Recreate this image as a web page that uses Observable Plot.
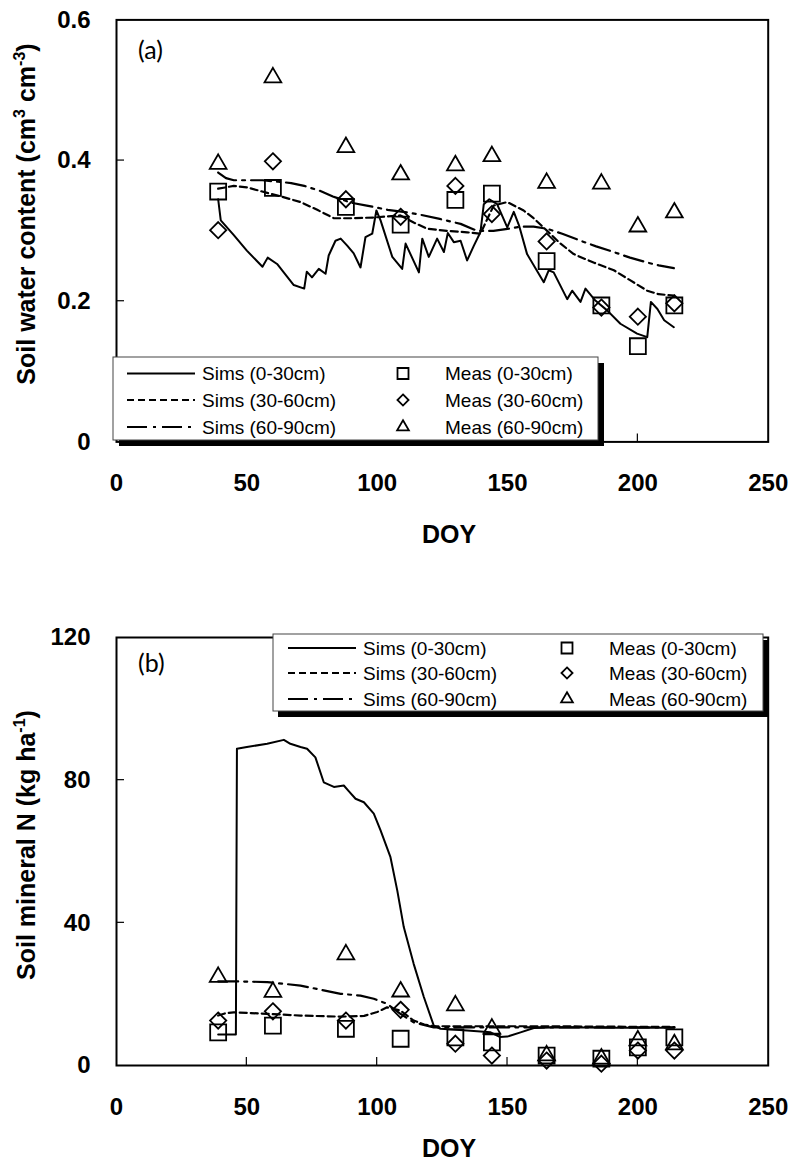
<!DOCTYPE html>
<html>
<head>
<meta charset="utf-8">
<script src="https://cdn.jsdelivr.net/npm/d3@7"></script>
<script src="https://cdn.jsdelivr.net/npm/@observablehq/plot@0.6"></script>
<style>
  html, body { margin: 0; padding: 0; background: white; }
  #chart { width: 795px; }
  #chart svg { display: block; }
</style>
</head>
<body>
<div id="chart"></div>
<script>
// ---------------- DATA ----------------
const xTicks = [0, 50, 100, 150, 200, 250];
const yTicksA = [0, 0.2, 0.4, 0.6];
const yTicksB = [0, 40, 80, 120];
const seriesLabels = ["(0-30cm)", "(30-60cm)", "(60-90cm)"];

// measured sampling days (both panels)
const doyMeas = [39, 60, 88, 109, 130, 144, 165, 186, 200, 214];

// Panel (a) soil water content measured
const swcMeas0_30  = [0.356, 0.361, 0.334, 0.309, 0.344, 0.353, 0.257, 0.194, 0.136, 0.194];
const swcMeas30_60 = [0.301, 0.399, 0.345, 0.320, 0.364, 0.324, 0.285, 0.191, 0.178, 0.197];
const swcMeas60_90 = [0.395, 0.518, 0.419, 0.380, 0.393, 0.406, 0.368, 0.367, 0.306, 0.326];

// Panel (a) simulated 0-30 cm
const swcSimDoy0_30 = [39, 40, 45, 50, 56, 58, 61.6, 68, 72, 73, 75, 77.6, 80.2, 81.4, 84, 86, 88.5, 91, 93.6, 95.5, 98.1, 99.7, 101.3, 105.8, 109.6, 110.9, 116, 117.3, 119.8, 123, 125.6, 127.1, 129.4, 132, 134.5, 137.1, 139.6, 140.9, 143, 146, 149.9, 152.4, 154.4, 157.5, 163.9, 165.8, 167.7, 172.9, 174.8, 178, 179.9, 183.7, 188.2, 193.3, 199.7, 203.6, 205, 207.5, 210.1, 213.8];
const swcSim0_30    = [0.345, 0.315, 0.294, 0.272, 0.249, 0.262, 0.253, 0.223, 0.218, 0.242, 0.234, 0.246, 0.239, 0.265, 0.286, 0.289, 0.279, 0.268, 0.248, 0.291, 0.296, 0.329, 0.315, 0.263, 0.246, 0.282, 0.241, 0.289, 0.263, 0.289, 0.270, 0.297, 0.284, 0.286, 0.258, 0.279, 0.298, 0.338, 0.345, 0.338, 0.305, 0.327, 0.308, 0.267, 0.227, 0.244, 0.241, 0.203, 0.215, 0.199, 0.218, 0.201, 0.187, 0.168, 0.154, 0.149, 0.199, 0.189, 0.173, 0.163];

// Panel (a) simulated 30-60 cm
const swcSimDoy30_60 = [39, 45, 50, 57.8, 64, 70.6, 77, 83.4, 90, 98.7, 108.9, 114, 119.2, 127, 134.5, 139.6, 142, 144.7, 149.9, 156.2, 160, 165.2, 170, 175.4, 183, 190.8, 197, 203.6, 208, 213.8];
const swcSim30_60    = [0.360, 0.364, 0.362, 0.354, 0.348, 0.341, 0.330, 0.318, 0.318, 0.319, 0.322, 0.312, 0.303, 0.300, 0.298, 0.296, 0.315, 0.336, 0.341, 0.329, 0.318, 0.300, 0.283, 0.267, 0.255, 0.244, 0.230, 0.215, 0.210, 0.208];

// Panel (a) simulated 60-90 cm
const swcSimDoy60_90 = [39, 42, 45, 56, 62, 67, 72, 78, 83, 90, 96, 104, 110, 115.3, 124, 132, 138.4, 144.6, 150, 155, 160, 165.2, 171, 178, 184, 190.7, 197, 203.6, 208, 213.8];
const swcSim60_90    = [0.383, 0.375, 0.372, 0.372, 0.370, 0.368, 0.364, 0.357, 0.349, 0.340, 0.336, 0.330, 0.327, 0.324, 0.317, 0.310, 0.300, 0.300, 0.303, 0.306, 0.306, 0.303, 0.296, 0.286, 0.278, 0.270, 0.262, 0.255, 0.251, 0.247];

// Panel (b) soil mineral N measured
const nMeas0_30  = [9.3, 11.2, 10.3, 7.5, 7.9, 6.5, 2.8, 1.9, 5.1, 7.9];
const nMeas30_60 = [12.6, 15.2, 12.6, 15.6, 6.1, 2.8, 1.4, 0.5, 4.2, 4.2];
const nMeas60_90 = [24.8, 20.6, 31.1, 20.7, 16.8, 10.3, 2.8, 1.9, 7.0, 5.9];

// Panel (b) simulated 0-30 cm
const nSimDoy0_30 = [39, 45.8, 46.2, 50, 57.8, 64.2, 66.7, 70.6, 73.1, 76.3, 79.5, 83.4, 87.2, 89, 91.7, 94.9, 98.7, 101.3, 105.1, 107.7, 110.2, 114, 117.9, 121.7, 124.3, 134.5, 143.5, 147, 149.9, 155, 160.1, 170, 190, 214];
const nSim0_30    = [8.7, 8.7, 88.8, 89.3, 90.2, 91.3, 90.2, 89.3, 88.8, 86.4, 79.4, 78.1, 78.5, 77.0, 74.8, 73.8, 70.6, 65.9, 58.4, 49.1, 38.8, 28.5, 19.2, 11.2, 10.3, 9.8, 9.3, 8.0, 8.1, 9.3, 10.5, 10.7, 10.6, 10.6];

// Panel (b) simulated 30-60 cm
const nSimDoy30_60 = [39, 42, 45, 57.8, 70.6, 86, 95, 100, 103.8, 108.9, 114, 118, 121.7, 140, 160, 214];
const nSim30_60    = [14.0, 14.7, 14.9, 14.5, 14.0, 13.7, 13.9, 15.0, 16.3, 15.4, 12.6, 11.5, 11.0, 11.0, 11.0, 10.8];

// Panel (b) simulated 60-90 cm
const nSimDoy60_90 = [39, 45, 57.8, 70.6, 86, 93.6, 98.7, 103.8, 108.9, 114, 121.7, 140, 214];
const nSim60_90    = [23.6, 23.6, 23.4, 22.4, 20.1, 19.6, 18.7, 17.3, 14.5, 12.1, 10.7, 10.7, 10.7];

// ---------------- HELPERS ----------------
const tbl = (xs, ys) => xs.map((x, i) => ({x, y: ys[i]}));
const FONT = "'Liberation Sans', Arial, sans-serif";
const DASHED = "7,4";
const DASHDOT = "20,6,3,6";
const symSizes = {square: 9, diamond2: 7.3, triangle2: 8};

function supText(sel, parts) {
  parts.forEach(([t, sup], i) => {
    const ts = sel.append("tspan").text(t);
    if (sup) ts.attr("dy", -10).attr("font-size", 16);
    else if (i > 0 && parts[i - 1][1]) ts.attr("dy", 10);
  });
}

function makePanel(cfg) {
  const plot = Plot.plot({
    width: 795,
    height: cfg.height,
    marginTop: cfg.marginTop,
    marginBottom: cfg.marginBottom,
    marginLeft: 116,
    marginRight: 27.3,
    x: {domain: [0, 250]},
    y: {domain: cfg.yDomain},
    style: {fontFamily: FONT, background: "white", color: "black", overflow: "visible"},
    marks: [
      Plot.axisX({ticks: xTicks, tickSize: 0, tickPadding: 32, fontSize: 24, fontWeight: "bold", tickFormat: d => String(d), label: null}),
      Plot.axisY({ticks: cfg.yTicks, tickSize: 0, tickPadding: 26, fontSize: 24, fontWeight: "bold", tickFormat: cfg.fmt, label: null}),
      Plot.line(tbl(cfg.sims[0][0], cfg.sims[0][1]), {x: "x", y: "y", stroke: "black", strokeWidth: 2}),
      Plot.line(tbl(cfg.sims[1][0], cfg.sims[1][1]), {x: "x", y: "y", stroke: "black", strokeWidth: 2.2, strokeDasharray: DASHED}),
      Plot.line(tbl(cfg.sims[2][0], cfg.sims[2][1]), {x: "x", y: "y", stroke: "black", strokeWidth: 2.2, strokeDasharray: DASHDOT}),
      Plot.dot(tbl(doyMeas, cfg.meas[0]), {x: "x", y: "y", symbol: "square", r: symSizes.square, stroke: "black", fill: "none", strokeWidth: 1.8}),
      Plot.dot(tbl(doyMeas, cfg.meas[1]), {x: "x", y: "y", symbol: "diamond2", r: symSizes.diamond2, stroke: "black", fill: "none", strokeWidth: 1.8}),
      Plot.dot(tbl(doyMeas, cfg.meas[2]), {x: "x", y: "y", symbol: "triangle2", r: symSizes.triangle2, stroke: "black", fill: "none", strokeWidth: 1.8}),
      Plot.frame({stroke: "black", strokeWidth: 2})
    ]
  });

  const svg = d3.select(plot);
  const xs = plot.scale("x"), ys = plot.scale("y");
  const y0 = ys.apply(cfg.yDomain[0]);
  const xLeft = xs.apply(0);
  // inward tick marks
  const tg = svg.append("g").attr("stroke", "black").attr("stroke-width", 1.2);
  xTicks.slice(1, -1).forEach(t => {
    tg.append("line").attr("x1", xs.apply(t)).attr("x2", xs.apply(t)).attr("y1", y0).attr("y2", y0 - 8);
  });
  cfg.yTicks.slice(1, -1).forEach(t => {
    tg.append("line").attr("x1", xLeft).attr("x2", xLeft + 8).attr("y1", ys.apply(t)).attr("y2", ys.apply(t));
  });

  // axis titles
  const yt = svg.append("text")
    .attr("transform", `translate(35,${cfg.yTitleY}) rotate(-90)`)
    .attr("text-anchor", "middle")
    .attr("font-family", FONT).attr("font-weight", "bold").attr("font-size", 25).attr("fill", "black");
  supText(yt, cfg.yTitle);
  svg.append("text").attr("x", 449).attr("y", cfg.doyY).attr("text-anchor", "middle")
    .attr("font-family", FONT).attr("font-weight", "bold").attr("font-size", 25).attr("fill", "black").text("DOY");

  // panel letter
  svg.append("text").attr("x", 138).attr("y", cfg.letterY).attr("text-anchor", "start")
    .attr("font-family", "Lato, 'Open Sans', sans-serif").attr("font-size", 25).attr("fill", "black").text(cfg.letter);

  // legend
  const L = cfg.legend;
  const lg = svg.append("g").attr("text-anchor", "start");
  lg.append("rect").attr("x", L.x + L.sx).attr("y", L.y + L.sy).attr("width", L.w).attr("height", L.h).attr("fill", "black");
  lg.append("rect").attr("x", L.x).attr("y", L.y).attr("width", L.w).attr("height", L.h).attr("fill", "white").attr("stroke", "#444").attr("stroke-width", 1);
  const dashes = [null, DASHED, DASHDOT];
  const syms = [d3.symbolSquare, d3.symbolDiamond2, d3.symbolTriangle2];
  const legR = [6.2, 5.0, 5.6];
  L.rows.forEach((ry, i) => {
    const ln = lg.append("line").attr("x1", L.lx1).attr("x2", L.lx2).attr("y1", ry).attr("y2", ry)
      .attr("stroke", "black").attr("stroke-width", 2.2);
    if (dashes[i]) ln.attr("stroke-dasharray", dashes[i]);
    lg.append("text").attr("x", L.tx).attr("y", ry).attr("dy", "0.35em").attr("text-anchor", "start")
      .attr("font-family", FONT).attr("font-size", 19).attr("fill", "black").text("Sims " + seriesLabels[i]);
    lg.append("path").attr("transform", `translate(${L.mx},${ry})`)
      .attr("d", d3.symbol(syms[i], Math.PI * legR[i] * legR[i])())
      .attr("fill", "none").attr("stroke", "black").attr("stroke-width", 1.8);
    lg.append("text").attr("x", L.mtx).attr("y", ry).attr("dy", "0.35em").attr("text-anchor", "start")
      .attr("font-family", FONT).attr("font-size", 19).attr("fill", "black").text("Meas " + seriesLabels[i]);
  });
  return plot;
}

const chart = document.getElementById("chart");

chart.appendChild(makePanel({
  height: 570, marginTop: 19.4, marginBottom: 128.6,
  yDomain: [0, 0.6], yTicks: yTicksA,
  fmt: d => d === 0 ? "0" : d.toFixed(1),
  sims: [[swcSimDoy0_30, swcSim0_30], [swcSimDoy30_60, swcSim30_60], [swcSimDoy60_90, swcSim60_90]],
  meas: [swcMeas0_30, swcMeas30_60, swcMeas60_90],
  yTitle: [["Soil water content (cm", false], ["3", true], [" cm", false], ["-3", true], [")", false]],
  yTitleY: 214, doyY: 543,
  letter: "(a)", letterY: 59,
  legend: {x: 113, y: 357, w: 485, h: 83, sx: 6, sy: 6, rows: [373.5, 400, 427], lx1: 127, lx2: 195, tx: 202, mx: 403, mtx: 445}
}));

chart.appendChild(makePanel({
  height: 595, marginTop: 67, marginBottom: 100,
  yDomain: [0, 120], yTicks: yTicksB,
  fmt: d => String(d),
  sims: [[nSimDoy0_30, nSim0_30], [nSimDoy30_60, nSim30_60], [nSimDoy60_90, nSim60_90]],
  meas: [nMeas0_30, nMeas30_60, nMeas60_90],
  yTitle: [["Soil mineral N (kg ha", false], ["-1", true], [")", false]],
  yTitleY: 275, doyY: 587,
  letter: "(b)", letterY: 102,
  legend: {x: 273, y: 64, w: 490, h: 77, sx: 5, sy: 6, rows: [78, 103, 129], lx1: 288, lx2: 356, tx: 363, mx: 567, mtx: 609}
}));
</script>
</body>
</html>
